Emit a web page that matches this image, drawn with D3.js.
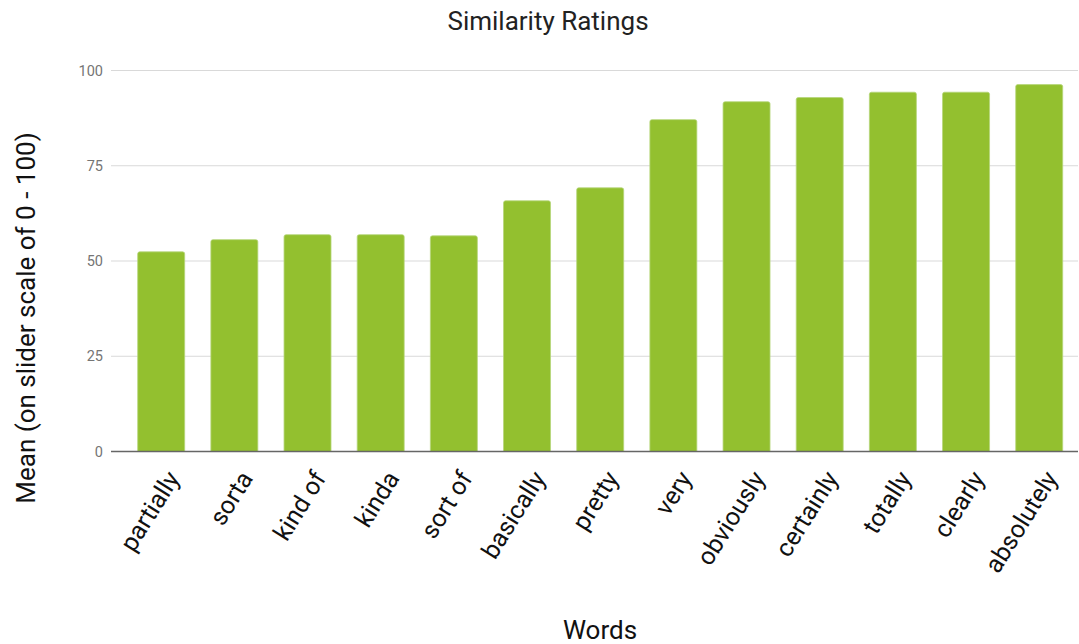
<!DOCTYPE html>
<html><head><meta charset="utf-8">
<script src="https://cdn.jsdelivr.net/npm/d3@7"></script>
<style>body{margin:0;background:#fff;font-family:Roboto,"Noto Sans",sans-serif;}</style>
</head><body>
<svg id="chart" width="1079" height="644"></svg>
<script>
const categories = ["partially","sorta","kind of","kinda","sort of","basically","pretty","very","obviously","certainly","totally","clearly","absolutely"];
const values = [52.4, 55.6, 56.9, 56.9, 56.6, 65.8, 69.2, 87.1, 91.8, 92.9, 94.3, 94.3, 96.3];
const yTicks = [0, 25, 50, 75, 100];
const title = "Similarity Ratings";
const xTitle = "Words";
const yTitle = "Mean (on slider scale of 0 - 100)";

const svg = d3.select("#chart");
const x = d3.scaleBand().domain(categories).range([124.6, 1075.8]).paddingInner(0.358).paddingOuter(0.179);
const y = d3.scaleLinear().domain([0, 100]).range([451.5, 70.5]);
const gridX0 = 111, gridX1 = 1078;

svg.append("g").selectAll("line").data(yTicks.filter(d => d !== 0)).join("line")
  .attr("x1", gridX0).attr("x2", gridX1)
  .attr("y1", d => y(d)).attr("y2", d => y(d))
  .attr("stroke", "#d9d9d9").attr("stroke-width", 1.2);

const yAxis = d3.axisLeft(y).tickValues(yTicks).tickSize(0).tickPadding(8);
const gy = svg.append("g").attr("transform", `translate(${gridX0},0)`).call(yAxis);
gy.select(".domain").remove();
gy.selectAll("text").attr("fill", "#757575").style("font-size", "14.5px").style("font-family", "Roboto");

svg.append("g").selectAll("path").data(categories).join("path")
  .attr("d", (d, i) => {
    const x0 = x(d), w = x.bandwidth(), y0 = y(values[i]), y1 = y(0), r = 2;
    return `M${x0},${y1}V${y0 + r}Q${x0},${y0} ${x0 + r},${y0}H${x0 + w - r}Q${x0 + w},${y0} ${x0 + w},${y0 + r}V${y1}Z`;
  })
  .attr("fill", "#93c02f").attr("stroke", "#b5d67a").attr("stroke-width", 0.8);

svg.append("line").attr("x1", gridX0).attr("x2", gridX1).attr("y1", y(0)).attr("y2", y(0))
  .attr("stroke", "#666").attr("stroke-width", 1.5);

svg.append("g").selectAll("text").data(categories).join("text")
  .attr("transform", d => `translate(${x(d) + x.bandwidth() / 2 + 12},${y(0) + 22}) rotate(-58)`)
  .attr("text-anchor", "end").attr("dy", "0.35em")
  .style("font-size", "25px").style("font-family", "Roboto").attr("fill", "#111")
  .text(d => d);

svg.append("text").attr("x", 548).attr("y", 30).attr("text-anchor", "middle")
  .style("font-size", "26px").style("font-family", "Roboto").attr("fill", "#222").text(title);
svg.append("text").attr("x", 600).attr("y", 639).attr("text-anchor", "middle")
  .style("font-size", "26px").style("font-family", "Roboto").attr("fill", "#111").text(xTitle);
svg.append("text").attr("transform", "translate(35,318) rotate(-90)").attr("text-anchor", "middle")
  .style("font-size", "26px").style("font-family", "Roboto").attr("fill", "#111").text(yTitle);
</script>
</body></html>
